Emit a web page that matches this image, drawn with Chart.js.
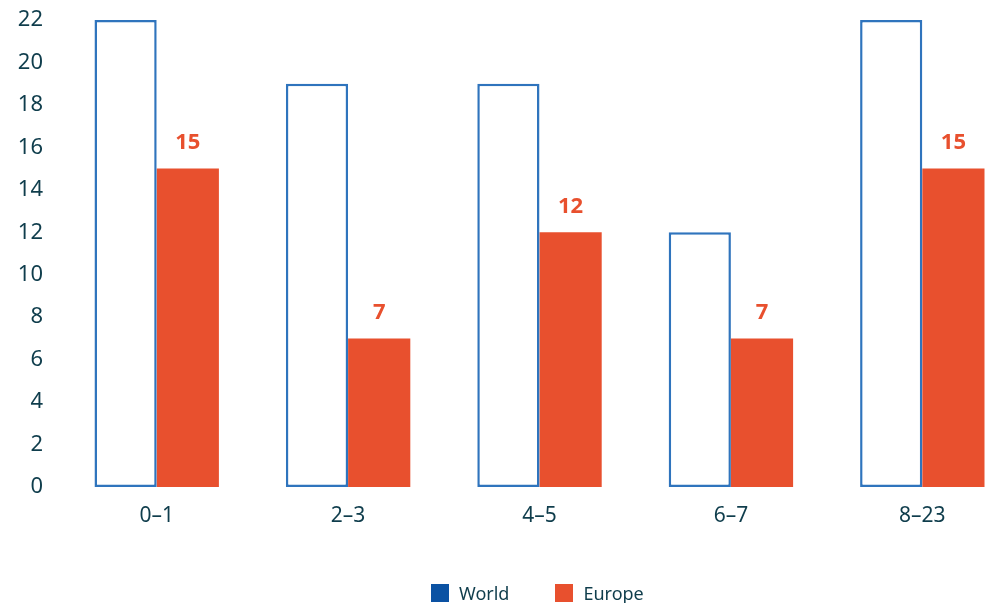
<!DOCTYPE html>
<html>
<head>
<meta charset="utf-8">
<script src="https://cdn.jsdelivr.net/npm/chart.js@4"></script>
<style>
  html, body { margin: 0; padding: 0; background: #fff; overflow: hidden; }
  #wrap { position: relative; width: 1020px; height: 603px; }
  #legend { position: absolute; left: 431px; top: 581px; display: flex; align-items: center;
            font-family: "Noto Sans", sans-serif; font-size: 18px; color: #0f3d4c; }
  #legend span.box { display: inline-block; width: 18px; height: 18px; margin-right: 10px; }
  #legend span.item { display: flex; align-items: center; margin-right: 46px; }
</style>
</head>
<body>
<div id="wrap">
  <canvas id="barChart"></canvas>
  <div id="legend"></div>
</div>
<script>
const categories = ['0–1', '2–3', '4–5', '6–7', '8–23'];
const worldValues = [22, 19, 19, 12, 22];
const europeValues = [15, 7, 12, 7, 15];
const yTicks = [0, 2, 4, 6, 8, 10, 12, 14, 16, 18, 20, 22];
const seriesNames = ['World', 'Europe'];

const textColor = '#0f3d4c';
const orange = '#e8502e';
const blueLine = '#2f74bd';
const blueLegend = '#0b52a3';
const fontFamily = '"Noto Sans", sans-serif';

// labels over the Europe bars
const valueLabels = {
    id: 'valueLabels',
    afterDatasetsDraw(chart) {
        const ctx = chart.ctx;
        const meta = chart.getDatasetMeta(1);
        ctx.save();
        ctx.fillStyle = orange;
        ctx.font = 'bold 22px ' + fontFamily;
        ctx.textAlign = 'center';
        ctx.textBaseline = 'middle';
        meta.data.forEach((bar, i) => {
            ctx.fillText(europeValues[i], bar.x, bar.y - 26);
        });
        ctx.restore();
    }
};

// html legend (World swatch is solid blue in the original)
const legendColors = [blueLegend, orange];
document.getElementById('legend').innerHTML = seriesNames.map((name, i) =>
    '<span class="item"><span class="box" style="background:' + legendColors[i] + '"></span>' + name + '</span>'
).join('');

const ctx = document.getElementById('barChart').getContext('2d');
new Chart(ctx, {
    type: 'bar',
    data: {
        labels: categories,
        datasets: [{
            label: seriesNames[0],
            data: worldValues,
            backgroundColor: '#ffffff',
            borderColor: blueLine,
            borderWidth: 2.5,
            borderSkipped: false
        }, {
            label: seriesNames[1],
            data: europeValues,
            backgroundColor: orange,
            borderWidth: 0
        }]
    },
    options: {
        responsive: true,
        maintainAspectRatio: false,
        animation: false,
        layout: { padding: { top: 20, left: 0, right: 2, bottom: 56 } },
        datasets: {
            bar: { categoryPercentage: 0.65, barPercentage: 1.0 }
        },
        scales: {
            x: {
                grid: { display: false },
                border: { display: false },
                ticks: { color: textColor, font: { family: fontFamily, size: 21 }, padding: 8 },
                afterFit(scale) { scale.height = 60; }
            },
            y: {
                min: 0,
                max: 22,
                grid: { display: false },
                border: { display: false },
                afterBuildTicks(scale) { scale.ticks = yTicks.map(v => ({ value: v })); },
                ticks: { color: textColor, font: { family: fontFamily, size: 22, lineHeight: 0.8 }, padding: 10 },
                afterFit(scale) { scale.width = 61; scale.paddingTop = 0; }
            }
        },
        plugins: {
            tooltip: { enabled: false },
            legend: { display: false }
        }
    },
    plugins: [valueLabels]
});
</script>
</body>
</html>
